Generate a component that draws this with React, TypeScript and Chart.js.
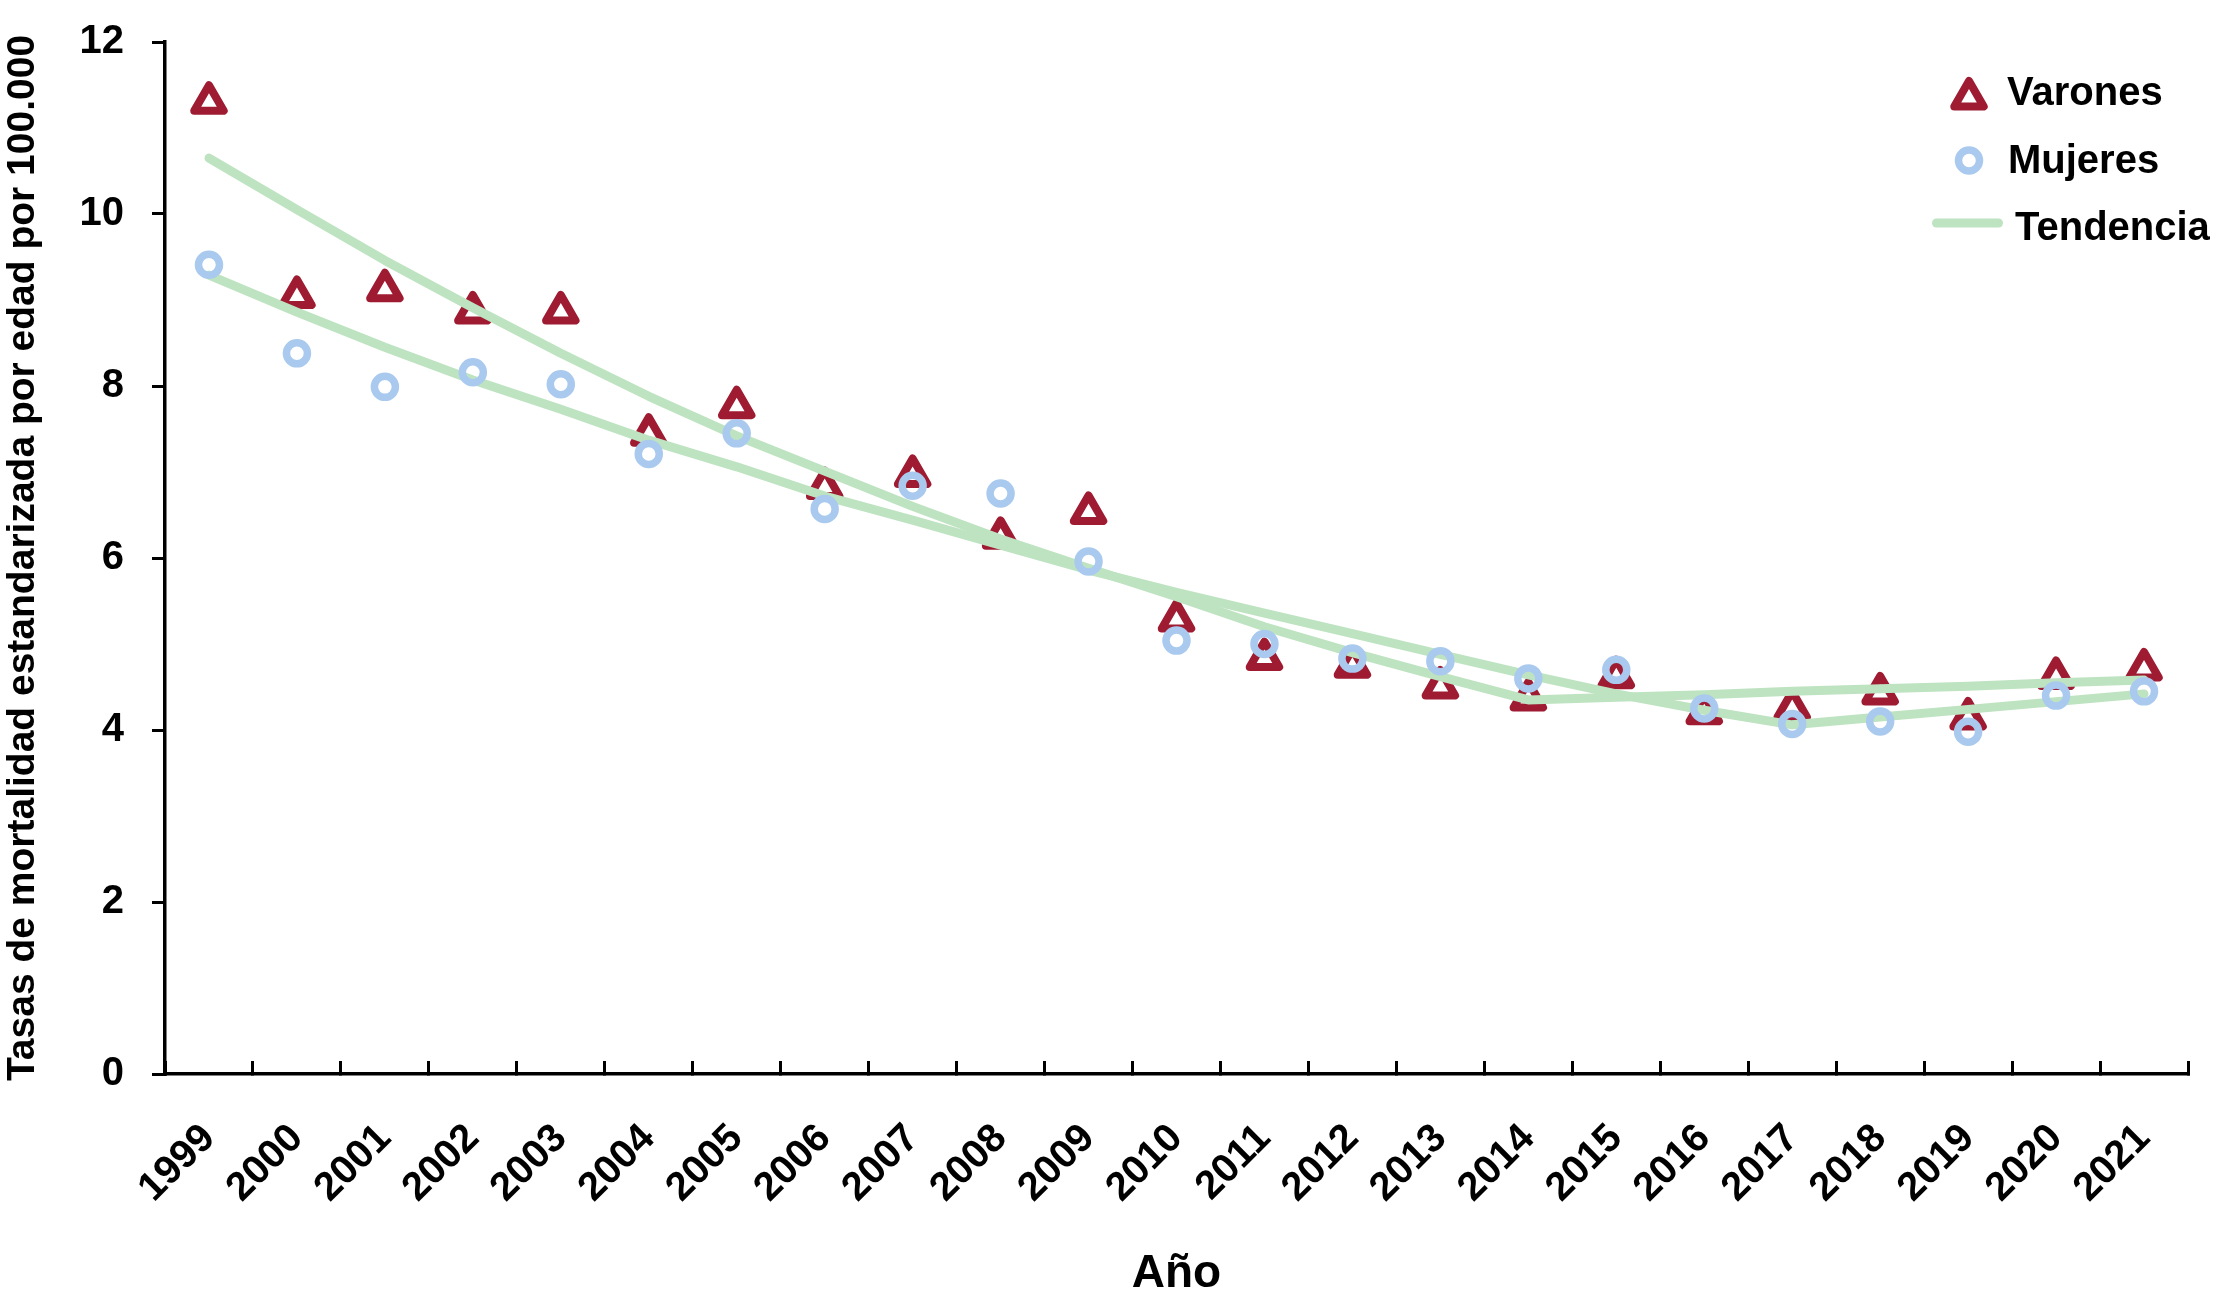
import { useEffect, useRef } from 'react';
import { Chart, registerables } from 'chart.js';

Chart.register(...registerables);

// ---------- data ----------
const years = ['1999', '2000', '2001', '2002', '2003', '2004', '2005', '2006', '2007', '2008', '2009', '2010', '2011', '2012', '2013', '2014', '2015', '2016', '2017', '2018', '2019', '2020', '2021'];
const varones = [11.3, 9.04, 9.12, 8.86, 8.86, 7.44, 7.76, 6.82, 6.96, 6.24, 6.53, 5.28, 4.83, 4.74, 4.5, 4.36, 4.62, 4.2, 4.25, 4.43, 4.14, 4.61, 4.71];
const mujeres = [9.41, 8.38, 7.99, 8.16, 8.02, 7.21, 7.45, 6.57, 6.84, 6.75, 5.96, 5.04, 5.0, 4.83, 4.8, 4.6, 4.7, 4.25, 4.07, 4.1, 3.98, 4.4, 4.45];
const tendenciaVarones = [10.65, 10.05, 9.46, 8.91, 8.38, 7.88, 7.42, 7.01, 6.6, 6.22, 5.88, 5.55, 5.2, 4.9, 4.62, 4.35, 4.38, 4.41, 4.45, 4.48, 4.51, 4.55, 4.58];
const tendenciaMujeres = [9.29, 8.86, 8.45, 8.07, 7.73, 7.37, 7.06, 6.72, 6.44, 6.15, 5.86, 5.6, 5.36, 5.12, 4.88, 4.64, 4.42, 4.23, 4.06, 4.15, 4.24, 4.33, 4.42];
const yTicks = [0, 2, 4, 6, 8, 10, 12];
const legendLabels = ['Varones', 'Mujeres', 'Tendencia'];
const yTitle = 'Tasas de mortalidad estandarizada por edad por 100.000';
const xTitle = 'Año';

// ---------- style ----------
const RED = '#9E1B32';
const BLUE = '#A9CAEE';
const GREEN = '#BEE3C1';
const FONT = '"Liberation Sans", Arial, Helvetica, sans-serif';
const TRI_R = 17;
const TRI_W = 8;
const CIR_R = 10.5;
const CIR_W = 7.5;

const roundJoinPlugin = {
  id: 'roundJoin',
  beforeDatasetsDraw(chart: any) {
    chart.ctx.save();
    chart.ctx.lineJoin = 'round';
  },
  afterDatasetsDraw(chart: any) {
    chart.ctx.restore();
  },
};

const legendPlugin = {
  id: 'insideLegend',
  afterDraw(chart: any) {
    const { ctx, chartArea } = chart;
    const r = chartArea.right;
    const t = chartArea.top;
    ctx.save();
    ctx.lineJoin = 'round';
    ctx.lineCap = 'round';
    {
      const cx = r - 219;
      const cy = t + 56;
      ctx.beginPath();
      for (let i = 0; i < 3; i++) {
        const a = (i * 2 * Math.PI) / 3;
        const px = cx + Math.sin(a) * TRI_R;
        const py = cy - Math.cos(a) * TRI_R;
        if (i === 0) ctx.moveTo(px, py);
        else ctx.lineTo(px, py);
      }
      ctx.closePath();
      ctx.strokeStyle = RED;
      ctx.lineWidth = TRI_W;
      ctx.stroke();
    }
    {
      ctx.beginPath();
      ctx.arc(r - 219, t + 118.5, CIR_R, 0, Math.PI * 2);
      ctx.strokeStyle = BLUE;
      ctx.lineWidth = CIR_W;
      ctx.stroke();
    }
    {
      ctx.beginPath();
      ctx.moveTo(r - 251.5, t + 181);
      ctx.lineTo(r - 189.5, t + 181);
      ctx.strokeStyle = GREEN;
      ctx.lineWidth = 9;
      ctx.stroke();
    }
    ctx.fillStyle = '#000';
    ctx.font = `bold 40px ${FONT}`;
    ctx.textAlign = 'left';
    ctx.textBaseline = 'alphabetic';
    ctx.fillText(legendLabels[0], r - 181, t + 63);
    ctx.fillText(legendLabels[1], r - 180, t + 131);
    ctx.fillText(legendLabels[2], r - 173, t + 198);
    ctx.restore();
  },
};

export default function App() {
  const canvasRef = useRef<HTMLCanvasElement | null>(null);

  useEffect(() => {
    if (!canvasRef.current) return;
    const trendCommon = {
      borderColor: GREEN,
      borderWidth: 9,
      borderCapStyle: 'round',
      borderJoinStyle: 'round',
      pointRadius: 0,
      pointHoverRadius: 0,
      tension: 0,
      fill: false,
      clip: false,
    };
    const chart = new Chart(canvasRef.current, {
      type: 'line',
      data: {
        labels: years,
        datasets: [
          {
            label: legendLabels[1],
            data: mujeres,
            showLine: false,
            pointStyle: 'circle',
            pointRadius: CIR_R,
            pointHoverRadius: CIR_R,
            pointBorderWidth: CIR_W,
            pointBorderColor: BLUE,
            pointBackgroundColor: 'rgba(0,0,0,0)',
            borderColor: BLUE,
            order: 0,
            clip: false,
          },
          { ...trendCommon, label: legendLabels[2], data: tendenciaVarones, order: 1 },
          { ...trendCommon, label: legendLabels[2] + ' (mujeres)', data: tendenciaMujeres, order: 2 },
          {
            label: legendLabels[0],
            data: varones,
            showLine: false,
            pointStyle: 'triangle',
            pointRadius: TRI_R,
            pointHoverRadius: TRI_R,
            pointBorderWidth: TRI_W,
            pointBorderColor: RED,
            pointBackgroundColor: 'rgba(0,0,0,0)',
            borderColor: RED,
            order: 3,
            clip: false,
          },
        ],
      },
      options: {
        animation: false,
        responsive: true,
        maintainAspectRatio: false,
        events: [],
        layout: { padding: { top: 42, right: 28, bottom: 0, left: 0 } },
        plugins: {
          legend: { display: false },
          tooltip: { enabled: false },
        },
        scales: {
          x: {
            type: 'category',
            offset: true,
            grid: {
              offset: true,
              drawOnChartArea: false,
              drawTicks: true,
              tickLength: -13,
              tickWidth: 3,
              tickColor: '#000',
              color: '#000',
              lineWidth: 3,
            },
            border: { display: true, color: '#000', width: 3.5 },
            ticks: {
              autoSkip: false,
              maxRotation: 45,
              minRotation: 45,
              padding: 54,
              color: '#000',
              font: { family: FONT, size: 40, weight: 'bold' },
            },
            title: {
              display: true,
              text: xTitle,
              color: '#000',
              padding: 0,
              font: { family: FONT, size: 46, weight: 'bold', lineHeight: 0.8 },
            },
            afterFit: (s: any) => {
              s.height = 219;
              s.paddingLeft = 0;
              s.paddingRight = 0;
            },
          },
          y: {
            min: 0,
            max: 12,
            afterBuildTicks: (s: any) => {
              s.ticks = yTicks.map((v) => ({ value: v }));
            },
            grid: {
              drawOnChartArea: false,
              drawTicks: true,
              tickLength: 13,
              tickWidth: 3,
              tickColor: '#000',
              color: '#000',
              lineWidth: 3,
            },
            border: { display: true, color: '#000', width: 3.5 },
            ticks: {
              padding: 28,
              color: '#000',
              font: { family: FONT, size: 40, weight: 'bold' },
            },
            title: {
              display: true,
              text: yTitle,
              color: '#000',
              padding: 0,
              font: { family: FONT, size: 39, weight: 'bold', lineHeight: 1.2 },
            },
            afterFit: (s: any) => {
              s.width = 165;
              s.paddingTop = 0;
              s.paddingBottom = 0;
            },
          },
        },
      },
      plugins: [roundJoinPlugin, legendPlugin],
    } as any);
    return () => chart.destroy();
  }, []);

  return (
    <div style={{ position: 'fixed', left: 0, top: 0, width: 2216, height: 1293, background: '#fff' }}>
      <canvas ref={canvasRef} />
    </div>
  );
}
